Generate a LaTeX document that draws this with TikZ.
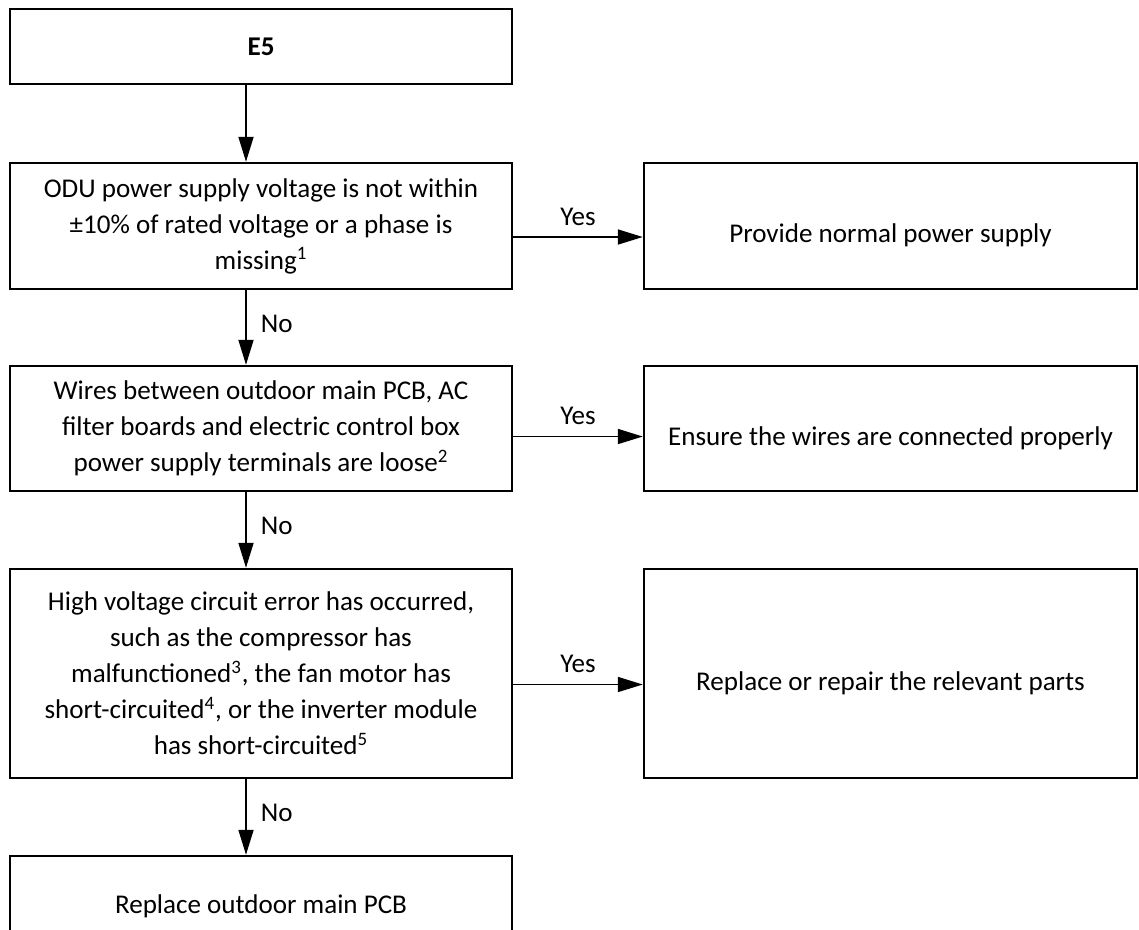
\documentclass[tikz,border=0pt]{standalone}
\usepackage{fontspec}
\setmainfont{Carlito}
\usetikzlibrary{arrows.meta,positioning}

\begin{document}
\begin{tikzpicture}[
  check/.style={draw, line width=1.4pt, minimum width=10.04cm,
                align=center, inner sep=0pt,
                font=\fontsize{15.4pt}{20.5pt}\selectfont},
  remedy/.style={draw, line width=1.4pt, minimum width=9.86cm,
                 align=center, inner sep=0pt,
                 text height=23pt, text depth=4pt,
                 font=\fontsize{15.4pt}{20.5pt}\selectfont},
  answer/.style={inner sep=3pt, font=\fontsize{15.4pt}{20.5pt}\selectfont},
  link/.style={-{Triangle[length=0.5cm, width=0.3cm]}, line width=1pt}
]
\useasboundingbox (0,0) rectangle (22.78,-18.58);
\clip (0,0) rectangle (22.78,-18.58);

\node[check, minimum height=1.5cm] (e5) at (5.22,-0.93) {\textbf{E5}};
\node[check, minimum height=2.52cm] (q1) at (5.22,-4.52)
  {ODU power supply voltage is not within\\
   ±10\% of rated voltage or a phase is\\
   missing\textsuperscript{1}};
\node[remedy, minimum height=2.52cm] (a1) at (17.81,-4.52)
  {Provide normal power supply};
\node[check, minimum height=2.5cm] (q2) at (5.22,-8.57)
  {Wires between outdoor main PCB, AC\\
   filter boards and electric control box\\
   power supply terminals are loose\textsuperscript{2}};
\node[remedy, minimum height=2.5cm] (a2) at (17.81,-8.57)
  {Ensure the wires are connected properly};
\node[check, minimum height=4.18cm] (q3) at (5.22,-13.47)
  {High voltage circuit error has occurred,\\
   such as the compressor has\\
   malfunctioned\textsuperscript{3}, the fan motor has\\
   short-circuited\textsuperscript{4}, or the inverter module\\
   has short-circuited\textsuperscript{5}};
\node[remedy, minimum height=4.18cm] (a3) at (17.81,-13.47)
  {Replace or repair the relevant parts};
\node[check, minimum height=2cm] (a4) at (5.22,-18.12)
  {Replace outdoor main PCB};

% down the No branch
\draw[link] ([xshift=-0.3cm]e5.south) -- ([xshift=-0.3cm]q1.north);
\draw[link] ([xshift=-0.3cm]q1.south) -- node[answer, right=5pt, pos=0.45] {No}
  ([xshift=-0.3cm]q2.north);
\draw[link] ([xshift=-0.3cm]q2.south) -- node[answer, right=5pt, pos=0.45] {No}
  ([xshift=-0.3cm]q3.north);
\draw[link] ([xshift=-0.3cm]q3.south) -- node[answer, right=5pt, pos=0.45] {No}
  ([xshift=-0.3cm]a4.north);

% across to the fixes
\draw[link] ([yshift=-0.22cm]q1.east) -- node[answer, above=3pt] {Yes}
  ([yshift=-0.22cm]q1.east -| a1.west);
\draw[link] ([yshift=-0.16cm]q2.east) -- node[answer, above=3pt] {Yes}
  ([yshift=-0.16cm]q2.east -| a2.west);
\draw[link] ([yshift=-0.22cm]q3.east) -- node[answer, above=3pt] {Yes}
  ([yshift=-0.22cm]q3.east -| a3.west);
\end{tikzpicture}
\end{document}
